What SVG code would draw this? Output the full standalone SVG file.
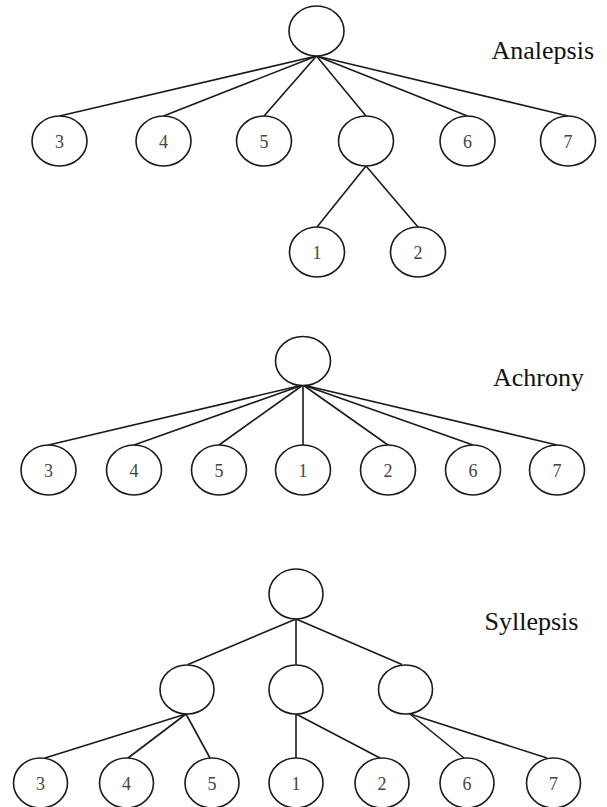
<svg xmlns="http://www.w3.org/2000/svg" width="607" height="807" viewBox="0 0 607 807">
<style>
.n ellipse{fill:#fff;stroke:#1a1a1a;stroke-width:1.6}
.n text{font-family:"Liberation Serif",serif;font-size:18px;fill:#444;text-anchor:middle}
.c line{stroke:#1a1a1a;stroke-width:1.6}
.t{font-family:"Liberation Serif",serif;font-size:26px;fill:#111}
</style>
<rect width="607" height="807" fill="#fff"/>
<g class="c" id="connectors">
<!-- Analepsis -->
<line x1="316.5" y1="56" x2="59.5" y2="116"/>
<line x1="316.5" y1="56" x2="163.5" y2="116"/>
<line x1="316.5" y1="56" x2="264" y2="116"/>
<line x1="316.5" y1="56" x2="366" y2="116"/>
<line x1="316.5" y1="56" x2="467.5" y2="116"/>
<line x1="316.5" y1="56" x2="568" y2="116"/>
<line x1="366" y1="166" x2="317" y2="227"/>
<line x1="366" y1="166" x2="418" y2="227"/>
<!-- Achrony -->
<line x1="303" y1="385" x2="48.5" y2="445"/>
<line x1="303" y1="385" x2="134" y2="445"/>
<line x1="303" y1="385" x2="219" y2="445"/>
<line x1="303" y1="385" x2="303" y2="445"/>
<line x1="303" y1="385" x2="388" y2="445"/>
<line x1="303" y1="385" x2="473" y2="445"/>
<line x1="303" y1="385" x2="557" y2="445"/>
<!-- Syllepsis -->
<line x1="296" y1="619" x2="188" y2="664.5"/>
<line x1="296" y1="619" x2="296" y2="664.5"/>
<line x1="296" y1="619" x2="402" y2="664.5"/>
<line x1="186" y1="714" x2="45" y2="758"/>
<line x1="186" y1="714" x2="128" y2="758"/>
<line x1="186" y1="714" x2="210" y2="758"/>
<line x1="296" y1="714" x2="296" y2="758"/>
<line x1="296" y1="714" x2="380" y2="758"/>
<line x1="410" y1="714" x2="464" y2="758"/>
<line x1="410" y1="714" x2="547" y2="758"/>
</g>
<!-- Analepsis tree -->
<g class="n" id="a-root"><ellipse cx="316.5" cy="31" rx="27.5" ry="25"/></g>
<g class="n" id="a-3"><ellipse cx="59.5" cy="141" rx="27.5" ry="25"/><text x="59.5" y="147.5">3</text></g>
<g class="n" id="a-4"><ellipse cx="163.5" cy="141" rx="27.5" ry="25"/><text x="163.5" y="147.5">4</text></g>
<g class="n" id="a-5"><ellipse cx="264" cy="141" rx="27.5" ry="25"/><text x="264" y="147.5">5</text></g>
<g class="n" id="a-mid"><ellipse cx="366" cy="141" rx="27.5" ry="25"/></g>
<g class="n" id="a-6"><ellipse cx="467.5" cy="141" rx="27.5" ry="25"/><text x="467.5" y="147.5">6</text></g>
<g class="n" id="a-7"><ellipse cx="568" cy="141" rx="27.5" ry="25"/><text x="568" y="147.5">7</text></g>
<g class="n" id="a-1"><ellipse cx="317" cy="252" rx="27.5" ry="25"/><text x="317" y="258.5">1</text></g>
<g class="n" id="a-2"><ellipse cx="418" cy="252" rx="27.5" ry="25"/><text x="418" y="258.5">2</text></g>
<text class="t" id="label-analepsis" x="491.5" y="58.5">Analepsis</text>
<!-- Achrony tree -->
<g class="n" id="b-root"><ellipse cx="303" cy="361" rx="27.5" ry="24.5"/></g>
<g class="n" id="b-3"><ellipse cx="48.5" cy="470" rx="27.5" ry="25"/><text x="48.5" y="476.5">3</text></g>
<g class="n" id="b-4"><ellipse cx="134" cy="470" rx="27.5" ry="25"/><text x="134" y="476.5">4</text></g>
<g class="n" id="b-5"><ellipse cx="219" cy="470" rx="27.5" ry="25"/><text x="219" y="476.5">5</text></g>
<g class="n" id="b-1"><ellipse cx="303" cy="470" rx="27.5" ry="25"/><text x="303" y="476.5">1</text></g>
<g class="n" id="b-2"><ellipse cx="388" cy="470" rx="27.5" ry="25"/><text x="388" y="476.5">2</text></g>
<g class="n" id="b-6"><ellipse cx="473" cy="470" rx="27.5" ry="25"/><text x="473" y="476.5">6</text></g>
<g class="n" id="b-7"><ellipse cx="557" cy="470" rx="27.5" ry="25"/><text x="557" y="476.5">7</text></g>
<text class="t" id="label-achrony" x="493" y="386">Achrony</text>
<!-- Syllepsis tree -->
<g class="n" id="c-root"><ellipse cx="296" cy="594" rx="27" ry="25"/></g>
<g class="n" id="c-left"><ellipse cx="187" cy="689.5" rx="27" ry="24.5"/></g>
<g class="n" id="c-center"><ellipse cx="296" cy="689.5" rx="27" ry="24.5"/></g>
<g class="n" id="c-right"><ellipse cx="405.5" cy="689.5" rx="27" ry="24.5"/></g>
<g class="n" id="c-3"><ellipse cx="40.5" cy="783" rx="27" ry="25"/><text x="40.5" y="789.5">3</text></g>
<g class="n" id="c-4"><ellipse cx="126.5" cy="783" rx="27" ry="25"/><text x="126.5" y="789.5">4</text></g>
<g class="n" id="c-5"><ellipse cx="212" cy="783" rx="27" ry="25"/><text x="212" y="789.5">5</text></g>
<g class="n" id="c-1"><ellipse cx="296" cy="783" rx="27" ry="25"/><text x="296" y="789.5">1</text></g>
<g class="n" id="c-2"><ellipse cx="382" cy="783" rx="27" ry="25"/><text x="382" y="789.5">2</text></g>
<g class="n" id="c-6"><ellipse cx="467" cy="783" rx="27" ry="25"/><text x="467" y="789.5">6</text></g>
<g class="n" id="c-7"><ellipse cx="553.5" cy="783" rx="27" ry="25"/><text x="553.5" y="789.5">7</text></g>
<text class="t" id="label-syllepsis" x="484.5" y="630">Syllepsis</text>
</svg>
